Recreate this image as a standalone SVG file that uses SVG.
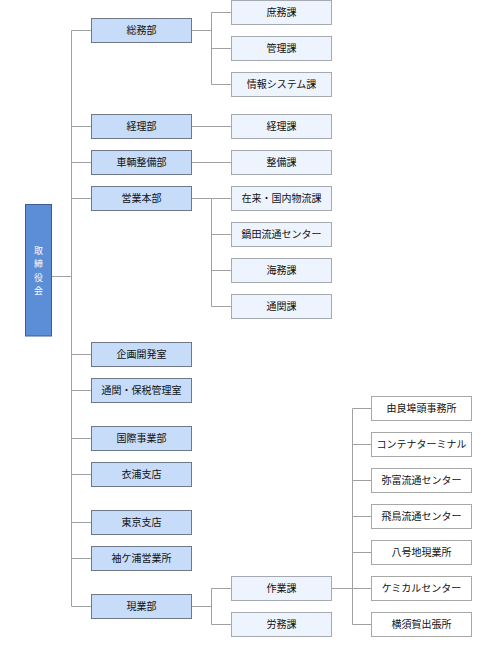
<svg xmlns="http://www.w3.org/2000/svg" width="485" height="648" viewBox="0 0 485 648">
<style>
text{font-family:"Noto Sans CJK JP","Liberation Sans",sans-serif;font-size:10px;fill:#111;text-anchor:middle}
.root rect{fill:#5b8ed7;stroke:#3d5f8f;stroke-width:1}
.root text{fill:#fff;font-size:9px}
.l1 rect{fill:#c6dcf8;stroke:#6e7888;stroke-width:1}
.l2 rect{fill:#eef4fd;stroke:#a5aab0;stroke-width:1}
.l3 rect{fill:#fff;stroke:#a8a8a8;stroke-width:1}
#connectors path{fill:none;stroke:#a0a0a0;stroke-width:1}
</style>
<rect width="485" height="648" fill="#fff"/>
<g id="connectors">
<path d="M52 276.5H71.5M71.5 30.5V606.5"/>
<path d="M71.5 30.5H91.5M71.5 126.5H91.5M71.5 162.5H91.5M71.5 198.5H91.5M71.5 354.5H91.5M71.5 390.5H91.5M71.5 438.5H91.5M71.5 474.5H91.5M71.5 522.5H91.5M71.5 558.5H91.5M71.5 606.5H91.5"/>
<path d="M191.5 30.5H211.5M211.5 12.5V84.5M211.5 12.5H231.5M211.5 48.5H231.5M211.5 84.5H231.5"/>
<path d="M191.5 126.5H231.5M191.5 162.5H231.5"/>
<path d="M191.5 198.5H211.5M211.5 198.5V306.5M211.5 198.5H231.5M211.5 234.5H231.5M211.5 270.5H231.5M211.5 306.5H231.5"/>
<path d="M191.5 606.5H211.5M211.5 588.5V624.5M211.5 588.5H231.5M211.5 624.5H231.5"/>
<path d="M331.5 588.5H352.5M352.5 408.5V624.5M352.5 408.5H371.5M352.5 444.5H371.5M352.5 480.5H371.5M352.5 516.5H371.5M352.5 552.5H371.5M352.5 588.5H371.5M352.5 624.5H371.5"/>
</g>
<g id="n-root" class="root"><rect x="25.5" y="204.5" width="26" height="131.5"/>
<text x="38.5" y="253.5">取</text><text x="38.5" y="267">締</text><text x="38.5" y="280.5">役</text><text x="38.5" y="294">会</text></g>
<g id="n-somu" class="l1"><rect x="91.5" y="18.5" width="100" height="24"/><text x="141.5" y="34">総務部</text></g>
<g id="n-keiri" class="l1"><rect x="91.5" y="114.5" width="100" height="24"/><text x="141.5" y="130">経理部</text></g>
<g id="n-sharyo" class="l1"><rect x="91.5" y="150.5" width="100" height="24"/><text x="141.5" y="166">車輌整備部</text></g>
<g id="n-eigyo" class="l1"><rect x="91.5" y="186.5" width="100" height="24"/><text x="141.5" y="202">営業本部</text></g>
<g id="n-kikaku" class="l1"><rect x="91.5" y="342.5" width="100" height="24"/><text x="141.5" y="358">企画開発室</text></g>
<g id="n-tsukan" class="l1"><rect x="91.5" y="378.5" width="100" height="24"/><text x="141.5" y="394">通関・保税管理室</text></g>
<g id="n-kokusai" class="l1"><rect x="91.5" y="426.5" width="100" height="24"/><text x="141.5" y="442">国際事業部</text></g>
<g id="n-kinuura" class="l1"><rect x="91.5" y="462.5" width="100" height="24"/><text x="141.5" y="478">衣浦支店</text></g>
<g id="n-tokyo" class="l1"><rect x="91.5" y="510.5" width="100" height="24"/><text x="141.5" y="526">東京支店</text></g>
<g id="n-sodegaura" class="l1"><rect x="91.5" y="546.5" width="100" height="24"/><text x="141.5" y="562">袖ケ浦営業所</text></g>
<g id="n-gengyo" class="l1"><rect x="91.5" y="594.5" width="100" height="24"/><text x="141.5" y="610">現業部</text></g>
<g id="n-shomu" class="l2"><rect x="231.5" y="0.5" width="100" height="24"/><text x="281.5" y="16">庶務課</text></g>
<g id="n-kanri" class="l2"><rect x="231.5" y="36.5" width="100" height="24"/><text x="281.5" y="52">管理課</text></g>
<g id="n-joho" class="l2"><rect x="231.5" y="72.5" width="100" height="24"/><text x="281.5" y="88">情報システム課</text></g>
<g id="n-keirika" class="l2"><rect x="231.5" y="114.5" width="100" height="24"/><text x="281.5" y="130">経理課</text></g>
<g id="n-seibi" class="l2"><rect x="231.5" y="150.5" width="100" height="24"/><text x="281.5" y="166">整備課</text></g>
<g id="n-zairai" class="l2"><rect x="231.5" y="186.5" width="100" height="24"/><text x="281.5" y="202">在来・国内物流課</text></g>
<g id="n-nabeta" class="l2"><rect x="231.5" y="222.5" width="100" height="24"/><text x="281.5" y="238">鍋田流通センター</text></g>
<g id="n-kaimu" class="l2"><rect x="231.5" y="258.5" width="100" height="24"/><text x="281.5" y="274">海務課</text></g>
<g id="n-tsukanka" class="l2"><rect x="231.5" y="294.5" width="100" height="24"/><text x="281.5" y="310">通関課</text></g>
<g id="n-sagyo" class="l2"><rect x="231.5" y="576.5" width="100" height="24"/><text x="281.5" y="592">作業課</text></g>
<g id="n-romu" class="l2"><rect x="231.5" y="612.5" width="100" height="24"/><text x="281.5" y="628">労務課</text></g>
<g id="n-yura" class="l3"><rect x="371.5" y="396.5" width="100" height="24"/><text x="421.5" y="412">由良埠頭事務所</text></g>
<g id="n-container" class="l3"><rect x="371.5" y="432.5" width="100" height="24"/><text x="421.5" y="448">コンテナターミナル</text></g>
<g id="n-tobishima" class="l3"><rect x="371.5" y="468.5" width="100" height="24"/><text x="421.5" y="484">弥富流通センター</text></g>
<g id="n-asuka" class="l3"><rect x="371.5" y="504.5" width="100" height="24"/><text x="421.5" y="520">飛鳥流通センター</text></g>
<g id="n-hachigo" class="l3"><rect x="371.5" y="540.5" width="100" height="24"/><text x="421.5" y="556">八号地現業所</text></g>
<g id="n-chemical" class="l3"><rect x="371.5" y="576.5" width="100" height="24"/><text x="421.5" y="592">ケミカルセンター</text></g>
<g id="n-yokosuka" class="l3"><rect x="371.5" y="612.5" width="100" height="24"/><text x="421.5" y="628">横須賀出張所</text></g>
</svg>
